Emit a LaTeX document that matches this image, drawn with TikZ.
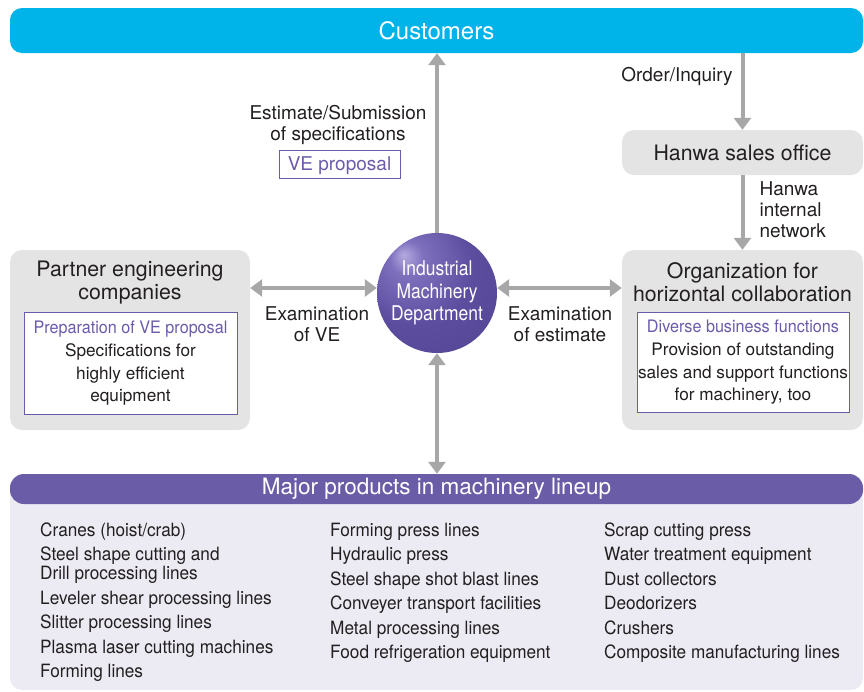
\documentclass[tikz,border=0pt]{standalone}
\usepackage{fontspec}
\setmainfont{TeX Gyre Heros}
\newfontfamily\condfont[FakeStretch=0.86]{TeX Gyre Heros}
\newfontfamily\semicond[FakeStretch=0.94]{TeX Gyre Heros}
\usetikzlibrary{arrows.meta}
\definecolor{cyanbar}{HTML}{00B3E8}
\definecolor{graybox}{HTML}{E4E4E5}
\definecolor{purplebar}{HTML}{6A5CA6}
\definecolor{purpletext}{HTML}{6D5BAA}
\definecolor{panelbg}{HTML}{ECEBF4}
\definecolor{arrowgray}{HTML}{A7A7A7}
\definecolor{ink}{HTML}{231F20}
\definecolor{sphL}{HTML}{B4AADF}
\definecolor{sphM}{HTML}{7F70BE}
\definecolor{sphN}{HTML}{5C4D9F}
\definecolor{sphD}{HTML}{2E2360}
\pgfdeclareradialshading{sphereshade}{\pgfpoint{-14bp}{16bp}}{%
  color(0bp)=(sphL); color(7bp)=(sphM); color(24bp)=(sphN); color(46bp)=(sphN!80!sphD); color(72bp)=(sphD)}
\newcommand{\ptxt}[1]{\textcolor{purpletext}{\semicond #1}}
\tikzset{
  arr/.style={draw=arrowgray, line width=4pt, -{Triangle[width=17pt,length=12pt]}},
  darr/.style={draw=arrowgray, line width=4pt, {Triangle[width=17pt,length=12pt]}-{Triangle[width=17pt,length=12pt]}},
  graybox/.style={fill=graybox, rounded corners=12pt, inner sep=0pt},
  innerbox/.style={draw=purpletext, line width=1pt, fill=white, inner sep=0pt, align=center,
    font=\fontsize{17.2}{22.7}\selectfont, text=ink},
  title/.style={font=\fontsize{21.3}{23}\selectfont, text=ink, align=center},
  lbl/.style={font=\fontsize{19}{21}\selectfont, text=ink},
  item/.style={anchor=base west, font=\semicond\fontsize{18.3}{20}\selectfont, text=ink, inner sep=0pt},
}
\begin{document}
\begin{tikzpicture}[x=1pt,y=-1pt]
\useasboundingbox (0,0) rectangle (864,691);

% Customers bar
\node[fill=cyanbar, rounded corners=12pt, minimum width=853pt, minimum height=45pt, inner sep=0pt,
  text=white, font=\fontsize{24}{26}\selectfont] (cust) at (436.5,30.5) {Customers};

% Hanwa sales office
\node[graybox, minimum width=241pt, minimum height=45pt, font=\fontsize{21.3}{23}\selectfont, text=ink]
  (sales) at (742.5,152.5) {Hanwa sales office};

% Organization box
\node[graybox, minimum width=241pt, minimum height=180pt] (org) at (742.5,340) {};
\node[title] (orgt) at (742.5,282.5) {Organization for\\horizontal collaboration};
\node[innerbox, minimum width=212pt, minimum height=100pt] (orgi) at (743,362.5)
  {\ptxt{Diverse business functions}\\Provision of outstanding\\sales and support functions\\for machinery, too};

% Partner box
\node[graybox, minimum width=240pt, minimum height=180pt] (part) at (130,340) {};
\node[title] (partt) at (130,282.5) {Partner engineering\\companies};
\node[innerbox, minimum width=213pt, minimum height=102pt] (parti) at (130.5,363.5)
  {\ptxt{Preparation of VE proposal}\\Specifications for\\highly efficient\\equipment};

% Products panel
\node[fill=panelbg, rounded corners=12pt, minimum width=853pt, minimum height=216pt, inner sep=0pt] (panel) at (436.5,582) {};
\node[fill=purplebar, rounded corners=14pt, minimum width=853pt, minimum height=30pt, inner sep=0pt,
  text=white, font=\fontsize{22.5}{24}\selectfont] (prodbar) at (436.5,489) {Major products in machinery lineup};

% Department sphere
\node[circle, minimum size=120pt, inner sep=0pt, shading=sphereshade, align=center, text=white,
  font=\condfont\fontsize{20.3}{22.5}\selectfont] (dept) at (437,293) {Industrial\\Machinery\\Department};

% Connectors
\draw[arr] (dept.north) -- (dept.north |- cust.south);
\draw[arr] (cust.south -| sales.north) -- (sales.north);
\draw[arr] (sales.south) -- (org.north);
\draw[darr] (part.east |- 0,288) -- (dept.west |- 0,288);
\draw[darr] (dept.east |- 0,288) -- (org.west |- 0,288);
\draw[darr] (dept.south) -- (dept.south |- prodbar.north);

% Labels
\node[lbl, align=center] (estl) at (338,124.5) {Estimate/Submission\\of specifications};
\node[draw=purpletext, line width=1pt, text=purpletext, font=\fontsize{19}{21}\selectfont,
  minimum width=121pt, minimum height=28pt, inner sep=0pt, text height=14pt, text depth=2pt] (vebox) at (339.5,164) {VE proposal};
\node[lbl] (ordl) at (677,76) {Order/Inquiry};
\node[lbl, align=left, anchor=west] (netl) at (756,210) {Hanwa\\internal\\network};
\node[lbl, align=center] (exvl) at (317,324.5) {Examination\\of VE};
\node[lbl, align=center] (exel) at (560,324.5) {Examination\\of estimate};

% Product lists
\node[item] (a1) at (40,536) {Cranes (hoist/crab)};
\node[item] (a2) at (40,560) {Steel shape cutting and};
\node[item] (a3) at (40,579) {Drill processing lines};
\node[item] (a4) at (40,604) {Leveler shear processing lines};
\node[item] (a5) at (40,628) {Slitter processing lines};
\node[item] (a6) at (40,653) {Plasma laser cutting machines};
\node[item] (a7) at (40,677) {Forming lines};

\node[item] (b1) at (330,536) {Forming press lines};
\node[item] (b2) at (330,560) {Hydraulic press};
\node[item] (b3) at (330,585) {Steel shape shot blast lines};
\node[item] (b4) at (330,609) {Conveyer transport facilities};
\node[item] (b5) at (330,634) {Metal processing lines};
\node[item] (b6) at (330,658) {Food refrigeration equipment};

\node[item] (c1) at (604,536) {Scrap cutting press};
\node[item] (c2) at (604,560) {Water treatment equipment};
\node[item] (c3) at (604,585) {Dust collectors};
\node[item] (c4) at (604,609) {Deodorizers};
\node[item] (c5) at (604,634) {Crushers};
\node[item] (c6) at (604,658) {Composite manufacturing lines};
\end{tikzpicture}
\end{document}
